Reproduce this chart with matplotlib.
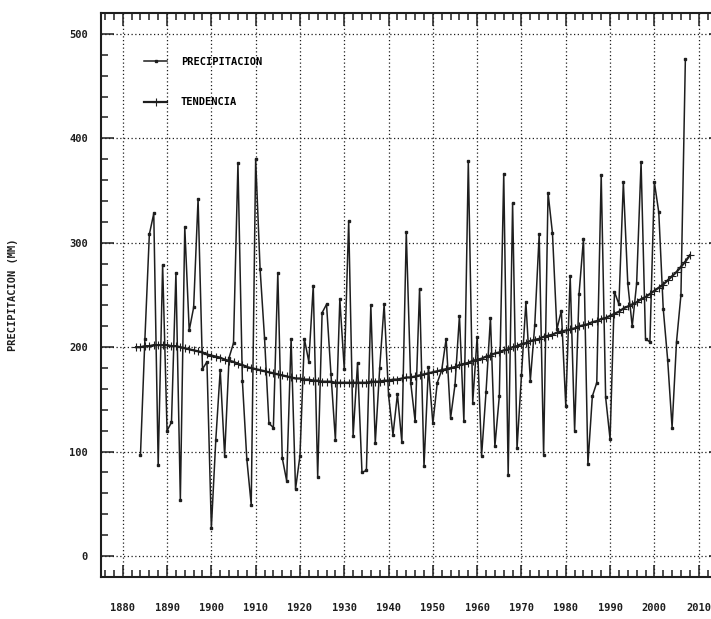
import matplotlib
matplotlib.use("Agg")
import matplotlib.pyplot as plt
from matplotlib.ticker import MultipleLocator

# annual precipitation (mm), 1884-2007
years = list(range(1884, 2008))
precip = [97, 208, 308, 328, 87, 279, 120, 128, 271, 54,
          315, 216, 238, 342, 179, 186, 27, 111, 178, 96,
          190, 204, 376, 168, 93, 49, 380, 275, 209, 127,
          123, 271, 94, 72, 208, 64, 96, 208, 186, 259,
          76, 233, 241, 174, 111, 246, 179, 321, 115, 185,
          80, 82, 240, 108, 180, 241, 154, 116, 155, 109,
          310, 166, 129, 256, 86, 181, 127, 166, 178, 208,
          132, 164, 230, 129, 378, 147, 210, 96, 157, 228,
          105, 153, 366, 78, 338, 103, 173, 243, 168, 221,
          308, 97, 348, 309, 217, 235, 144, 268, 120, 251,
          304, 88, 153, 166, 365, 152, 112, 253, 241, 358,
          261, 220, 261, 377, 208, 205, 358, 329, 237, 188,
          123, 205, 250, 476]

# trend curve, 1883-2008
trend_years = list(range(1883, 2009))
trend = [200, 200, 201, 201, 202, 202, 202, 202, 201, 201,
         200, 199, 198, 197, 196, 195, 193, 192, 191, 190,
         188, 187, 186, 184, 183, 181, 180, 179, 178, 177,
         176, 175, 174, 173, 172, 171, 170, 170, 169, 169,
         168, 168, 167, 167, 167, 166, 166, 166, 166, 166,
         166, 166, 166, 167, 167, 167, 168, 168, 169, 169,
         170, 171, 171, 172, 173, 174, 175, 176, 177, 178,
         179, 180, 181, 183, 184, 185, 187, 188, 189, 191,
         192, 194, 195, 197, 198, 200, 201, 203, 204, 206,
         207, 208, 210, 211, 212, 214, 215, 216, 217, 218,
         220, 221, 222, 224, 225, 227, 228, 230, 232, 234,
         237, 239, 241, 243, 246, 248, 251, 254, 257, 260,
         264, 268, 272, 277, 282, 288]

ink = "#1e1e1e"
mono = {"family": "DejaVu Sans Mono", "weight": "bold"}

fig = plt.figure(figsize=(7.11, 6.19), dpi=100)
# right edge of the frame runs off the scanned page
ax = fig.add_axes([0.1415, 0.068, 0.8723, 0.911])

ax.plot(years, precip, color=ink, lw=1.1, marker="s", ms=2.0,
        label="PRECIPITACION")
ax.plot(trend_years, trend, color=ink, lw=1.6, marker="+", ms=6, mew=0.8,
        label="TENDENCIA")

ax.set_xlim(1875, 2015)
ax.set_ylim(-20, 520)
ax.xaxis.set_major_locator(MultipleLocator(10))
ax.xaxis.set_minor_locator(MultipleLocator(2))
ax.yaxis.set_major_locator(MultipleLocator(100))
ax.yaxis.set_minor_locator(MultipleLocator(20))

ax.grid(True, which="major", color=ink, linestyle=(0, (1, 2)), lw=0.9)
ax.tick_params(which="both", direction="in", top=True, right=True,
               colors=ink, width=1.1)
ax.tick_params(which="major", length=9)
ax.tick_params(which="minor", length=5)
ax.tick_params(axis="x", which="major", pad=19)
ax.tick_params(axis="y", which="major", pad=9)
for sp in ax.spines.values():
    sp.set_linewidth(1.5)
    sp.set_color(ink)

for lab in ax.get_xticklabels() + ax.get_yticklabels():
    lab.set_fontfamily("DejaVu Sans Mono")
    lab.set_fontweight("bold")
    lab.set_fontsize(7.5)

ax.set_ylabel("PRECIPITACION (MM)", fontdict=mono, fontsize=7.5, color=ink)
ax.yaxis.set_label_coords(-0.133, 0.5)

leg = ax.legend(loc="upper left", bbox_to_anchor=(0.062, 0.932), frameon=False,
                prop={"family": "DejaVu Sans Mono", "weight": "bold", "size": 7.5},
                handlelength=2.2, handletextpad=1.3, labelspacing=2.95,
                borderpad=0, markerscale=1.0)

fig.savefig("out.png", dpi=100)
